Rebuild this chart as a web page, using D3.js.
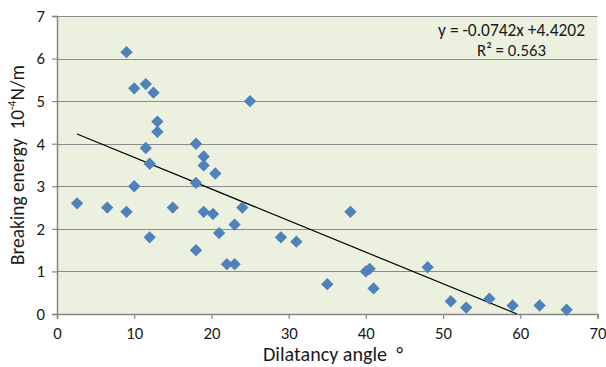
<!DOCTYPE html>
<html>
<head>
<meta charset="utf-8">
<script src="https://cdn.jsdelivr.net/npm/d3@7"></script>
<style>
  html, body { margin: 0; padding: 0; background: #fff; }
  svg { display: block; }
  text { font-family: Carlito, Lato, "Open Sans", sans-serif; fill: #1a1a1a; white-space: pre; }
</style>
</head>
<body>
<svg id="chart" width="606" height="367"></svg>
<script>
// Dilatancy angle (degrees) for each sample
const dilatancyAngle = [
  2.6, 6.5, 9, 9, 10, 11.5, 12.5, 13, 13, 11.5, 12, 10, 12, 15,
  18, 19, 19, 20.5, 18, 19, 20.2, 21, 23, 24, 18, 22, 23, 25,
  29, 31, 35, 38, 40, 40.5, 41, 48, 51, 53, 56, 59, 62.5, 66
];
// Breaking energy (10^-4 N/m) for each sample
const breakingEnergy = [
  2.6, 2.5, 2.4, 6.15, 5.3, 5.4, 5.2, 4.52, 4.28, 3.9, 3.53, 3.0, 1.8, 2.5,
  4.0, 3.7, 3.49, 3.3, 3.08, 2.4, 2.35, 1.9, 2.1, 2.5, 1.5, 1.17, 1.17, 5.0,
  1.8, 1.7, 0.7, 2.4, 1.0, 1.06, 0.6, 1.1, 0.3, 0.15, 0.36, 0.2, 0.2, 0.1
];
const xTicks = [0, 10, 20, 30, 40, 50, 60, 70];
const yTicks = [0, 1, 2, 3, 4, 5, 6, 7];
// Linear trendline
const slope = -0.0742;
const intercept = 4.4202;
const rSquared = 0.563;

const svg = d3.select("#chart");
const plot = { left: 57, right: 597.5, top: 16, bottom: 314 };

// scale a text element's font so that it spans the given width
function fitWidth(sel, width) {
  const node = sel.node();
  const fs = parseFloat(sel.attr("font-size"));
  const w = node.getComputedTextLength();
  if (w > 0) sel.attr("font-size", (fs * width / w).toFixed(2));
  return sel;
}

const x = d3.scaleLinear().domain([0, 70]).range([plot.left, plot.right]);
const y = d3.scaleLinear().domain([0, 7]).range([plot.bottom, plot.top]);

// plot background
svg.append("rect")
  .attr("x", plot.left).attr("y", plot.top)
  .attr("width", plot.right - plot.left).attr("height", plot.bottom - plot.top)
  .attr("fill", "#ebf1de");

// horizontal gridlines
svg.append("g")
  .selectAll("line")
  .data(yTicks.filter(d => d > 0))
  .join("line")
  .attr("x1", plot.left).attr("x2", plot.right)
  .attr("y1", d => Math.round(y(d)) + 0.5).attr("y2", d => Math.round(y(d)) + 0.5)
  .attr("stroke", "#8c8c8c").attr("stroke-width", 1);

// tick label size, sized from the width of a two-digit label
const probe = svg.append("text").attr("font-size", 15).text("50");
fitWidth(probe, 17);
const tickFont = +probe.attr("font-size");
probe.remove();

// axes
const yAxis = d3.axisLeft(y).tickValues(yTicks).tickSize(5).tickPadding(7).tickFormat(d3.format("d"));
const xAxis = d3.axisBottom(x).tickValues(xTicks).tickSize(5).tickPadding(8).tickFormat(d3.format("d"));

const gy = svg.append("g").attr("transform", `translate(${plot.left},0)`).call(yAxis);
const gx = svg.append("g").attr("transform", `translate(0,${plot.bottom})`).call(xAxis);

[gx, gy].forEach(g => {
  g.select(".domain").attr("stroke", "#868686").attr("stroke-width", 1.5);
  g.selectAll(".tick line").attr("stroke", "#868686").attr("stroke-width", 1.2);
  g.selectAll(".tick text")
    .attr("font-family", "Carlito, Lato, 'Open Sans', sans-serif")
    .attr("font-size", tickFont).attr("fill", "#1a1a1a");
});

// trendline, from the smallest angle to where it meets zero
const xMin = d3.min(dilatancyAngle);
const xZero = -intercept / slope;
svg.append("line")
  .attr("x1", x(xMin)).attr("y1", y(slope * xMin + intercept))
  .attr("x2", x(xZero)).attr("y2", y(0))
  .attr("stroke", "#000").attr("stroke-width", 1.2);

// diamond markers
const diamond = d3.symbol().type(d3.symbolSquare).size(76);
svg.append("g")
  .selectAll("path")
  .data(d3.zip(dilatancyAngle, breakingEnergy))
  .join("path")
  .attr("d", diamond)
  .attr("transform", d => `translate(${x(d[0])},${y(d[1])}) rotate(45)`)
  .attr("fill", "#4f81bd");

// trendline equation
const sign = intercept >= 0 ? "+" : "-";
const eq = svg.append("text")
  .attr("x", 585).attr("y", 36)
  .attr("text-anchor", "end")
  .attr("font-size", 14)
  .text(`y = ${slope.toFixed(4)}x ${sign}${Math.abs(intercept).toFixed(4)}`);
fitWidth(eq, 147);
const r2 = svg.append("text")
  .attr("x", 511.5).attr("y", 56)
  .attr("text-anchor", "middle")
  .attr("font-size", 14)
  .text(`R² = ${rSquared}`);
fitWidth(r2, 69);

// axis titles
const yTitle = svg.append("text")
  .attr("transform", "translate(24,165) rotate(-90)")
  .attr("text-anchor", "middle")
  .attr("font-size", 17);
yTitle.append("tspan").text("Breaking energy\u00a0\u00a010");
yTitle.append("tspan").attr("dy", -7).attr("font-size", "0.6em").text("-4");
yTitle.append("tspan").attr("dy", 7).text("N/m");
{
  const w = yTitle.node().getBBox().width;
  const fs = 17 * 200 / w;
  yTitle.attr("font-size", fs.toFixed(2));
  yTitle.selectAll("tspan").filter((d, i) => i === 1).attr("dy", -0.4 * fs);
  yTitle.selectAll("tspan").filter((d, i) => i === 2).attr("dy", 0.4 * fs);
}

const xTitle = svg.append("text")
  .attr("x", 333).attr("y", 361)
  .attr("text-anchor", "middle")
  .attr("font-size", 17)
  .text("Dilatancy angle\u00a0\u00a0°");
fitWidth(xTitle, 140);
</script>
</body>
</html>
